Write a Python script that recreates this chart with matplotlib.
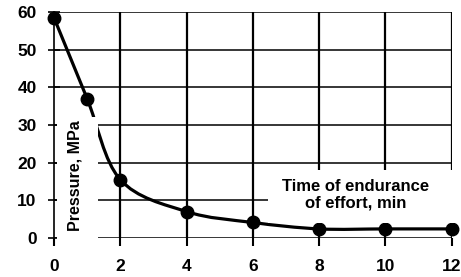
import matplotlib
matplotlib.use("Agg")
import matplotlib.pyplot as plt
from matplotlib.path import Path
from matplotlib.patches import PathPatch, Rectangle

plt.rcParams["font.family"] = ["Liberation Sans", "DejaVu Sans"]
plt.rcParams["font.weight"] = "bold"

# data
time_min = [0, 1, 2, 4, 6, 8, 10, 12]
pressure_mpa = [58.5, 37, 15.5, 7, 4.1, 2.4, 2.4, 2.4]

x_ticks = [0, 2, 4, 6, 8, 10, 12]
y_ticks = [0, 10, 20, 30, 40, 50, 60]


def smooth_path(xs, ys):
    # Catmull-Rom style bezier through the points (like a spreadsheet "smoothed line")
    pts = list(zip(xs, ys))
    verts = [pts[0]]
    codes = [Path.MOVETO]
    n = len(pts)
    for i in range(n - 1):
        p0 = pts[max(i - 1, 0)]
        p1 = pts[i]
        p2 = pts[i + 1]
        p3 = pts[min(i + 2, n - 1)]
        c1 = (p1[0] + (p2[0] - p0[0]) / 6, p1[1] + (p2[1] - p0[1]) / 6)
        c2 = (p2[0] - (p3[0] - p1[0]) / 6, p2[1] - (p3[1] - p1[1]) / 6)
        verts += [c1, c2, p2]
        codes += [Path.CURVE4] * 3
    return Path(verts, codes)


fig = plt.figure(figsize=(4.61, 2.77), dpi=100)
ax = fig.add_axes([0.117, 0.141, 0.863, 0.816])

ax.set_xlim(0, 12)
ax.set_ylim(0, 60)

# grid
for x in x_ticks[1:]:
    ax.axvline(x, color="black", lw=1.6, zorder=1)
for y in y_ticks:
    ax.axhline(y, color="black", lw=1.1, zorder=1)

# curve + markers
ax.add_patch(PathPatch(smooth_path(time_min, pressure_mpa), facecolor="none",
                       edgecolor="black", lw=2.3, zorder=2))
ax.plot(time_min, pressure_mpa, "o", color="black", ms=9, zorder=2.5, clip_on=False)

# white boxes behind the labels
ax.add_patch(Rectangle((0.08, -0.6), 1.25, 32.7, facecolor="white",
                       edgecolor="none", zorder=3, clip_on=False))
ax.add_patch(Rectangle((6.45, 4.0), 6.0, 14.0, facecolor="white",
                       edgecolor="none", zorder=3, clip_on=False))

ax.text(0.63, 16.6, "Pressure, MPa", rotation=90, ha="center", va="center",
        fontsize=11.5, fontweight="bold", zorder=4)
ax.text(9.1, 11.4, "Time of endurance\nof effort, min", ha="center", va="center",
        fontsize=12, fontweight="bold", linespacing=1.15, zorder=4)

for side in ["top", "right", "bottom"]:
    ax.spines[side].set_visible(False)
ax.spines["left"].set_linewidth(1.2)
ax.spines["left"].set_zorder(5)

ax.set_xticks(x_ticks)
ax.set_yticks(y_ticks)
ax.tick_params(axis="y", direction="inout", length=9, width=1.2, labelsize=12.5, pad=8)
ax.tick_params(axis="x", direction="out", length=6, width=1.5, labelsize=12.5, pad=9)
for lab in ax.get_xticklabels() + ax.get_yticklabels():
    lab.set_fontweight("bold")

fig.savefig("out.png", dpi=100)
plt.close(fig)
